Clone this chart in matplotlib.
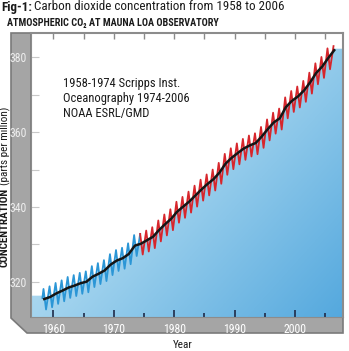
import numpy as np
import matplotlib.pyplot as plt
from matplotlib.patches import Polygon
from matplotlib.ticker import MultipleLocator

plt.rcParams['font.family'] = ['Roboto Condensed', 'DejaVu Sans']
plt.rcParams['font.stretch'] = 'condensed'

# annual means (black trend line)
years = list(range(1958, 2007))
annual_mean = [315.4, 315.97, 316.91, 317.64, 318.45, 318.99, 319.62, 320.04, 321.38, 322.16,
               323.04, 324.62, 325.68, 326.32, 327.45, 329.68, 330.18, 331.11, 332.04, 333.83,
               335.40, 336.84, 338.75, 340.11, 341.45, 343.05, 344.65, 346.12, 347.42, 349.19,
               351.57, 353.12, 354.39, 355.61, 356.45, 357.10, 358.83, 360.82, 362.61, 363.73,
               366.70, 368.38, 369.55, 371.14, 373.28, 375.80, 377.52, 379.80, 381.90]
# seasonal maxima (May) and minima (Oct)
may_peak = [318.1, 318.8, 319.7, 320.4, 321.3, 321.8, 322.4, 322.8, 324.2, 325.0,
            325.8, 327.4, 328.5, 329.1, 330.3, 332.5, 332.8, 333.7, 334.6, 336.4,
            338.0, 339.4, 341.4, 342.7, 344.1, 345.7, 347.3, 348.7, 350.0, 351.8,
            354.2, 355.7, 357.0, 358.2, 359.1, 359.7, 361.4, 363.4, 365.2, 366.3,
            369.3, 371.0, 372.2, 373.7, 375.9, 378.4, 380.1, 382.4, 383.0]
oct_trough = [312.6, 313.2, 314.1, 314.8, 315.7, 316.2, 316.8, 317.2, 318.6, 319.4,
              320.2, 321.8, 322.9, 323.5, 324.7, 326.9, 327.3, 328.1, 329.0, 330.8,
              332.4, 333.8, 335.8, 337.1, 338.5, 340.1, 341.7, 343.1, 344.4, 346.2,
              348.6, 350.1, 351.4, 352.6, 353.5, 354.1, 355.8, 357.8, 359.6, 360.7,
              363.7, 365.4, 366.6, 368.1, 370.3, 372.8, 374.5, 376.8]
first_month = (1958.2, 315.7)
switch_year = 1974.4

# build the monthly zig-zag from the extremes
zx, zy = [first_month[0]], [first_month[1]]
for i, yr in enumerate(years):
    zx.append(yr + 0.38)
    zy.append(may_peak[i])
    if i < len(oct_trough):
        zx.append(yr + 0.8)
        zy.append(oct_trough[i])
zx = np.array(zx)
zy = np.array(zy)
mx = np.array(years) + 0.5
my = np.array(annual_mean)

W, H = 349, 351
fig = plt.figure(figsize=(W / 100, H / 100), dpi=100)

# background layer in pixel units for frame and labels
bg = fig.add_axes([0, 0, 1, 1])
bg.set_xlim(0, W)
bg.set_ylim(H, 0)
bg.axis('off')
frame = Polygon([(11, 33), (31, 33), (31, 317), (343, 317), (343, 333), (27, 333), (11, 318)],
                closed=True, facecolor='#a5a5a5', edgecolor='#7a7a7a', lw=1.2)
bg.add_patch(frame)

ax = fig.add_axes([31 / W, (H - 317) / H, 312 / W, 284 / H])
ax.set_xlim(1956.31, 2007.95)
ax.set_ylim(310.6, 386.5)
ax.set_facecolor('white')

# gradient fill under the trend
x0, x1 = ax.get_xlim()
y0, y1 = ax.get_ylim()
fx = np.concatenate([[x0, 1958.3], mx, [2006.5, x1]])
fy = np.concatenate([[316.3, 316.3], my, [382.3, 382.3]])
poly = ax.fill_between(fx, y0, fy, facecolor='none', edgecolor='none')
gx, gy = np.meshgrid(np.linspace(0, 1, 200), np.linspace(0, 1, 200))
t = 0.55 * gx + 0.45 * (1 - gy)
c0 = np.array([0.86, 0.94, 0.98])
c1 = np.array([0.62, 0.82, 0.93])
c2 = np.array([0.33, 0.66, 0.87])
tt = t[..., None]
img = np.where(tt < 0.5, c0 + (c1 - c0) * (tt / 0.5), c1 + (c2 - c1) * ((tt - 0.5) / 0.5))
im = ax.imshow(img, extent=[x0, x1, y0, y1], origin='lower', aspect='auto', zorder=1)
im.set_clip_path(poly.get_paths()[0], ax.transData)

blue = zx <= switch_year + 0.01
red = zx >= switch_year - 0.45
ax.plot(zx[blue], zy[blue], color='#2b96d6', lw=1.3, zorder=3)
ax.plot(zx[red], zy[red], color='#d7262c', lw=1.3, zorder=3)
ax.plot(mx, my, color='#151515', lw=1.8, zorder=4)

# ticks
ax.xaxis.set_major_locator(MultipleLocator(10))
ax.xaxis.set_minor_locator(MultipleLocator(5))
ax.yaxis.set_major_locator(MultipleLocator(20))
ax.yaxis.set_minor_locator(MultipleLocator(10))
ax.tick_params(axis='x', which='major', direction='in', length=5, width=1.2,
               color='#1e2a48', labelsize=8.5, labelcolor='white', pad=4)
ax.tick_params(axis='x', which='minor', direction='in', length=3, width=1.2, color='#1e2a48')
ax.tick_params(axis='y', which='both', direction='in', length=6, width=0.8,
               color='#c8c8c8', labelsize=8.5, labelcolor='#eeeeee', pad=3)
secx = ax.secondary_xaxis('top')
secx.xaxis.set_major_locator(MultipleLocator(5))
secx.tick_params(direction='in', length=4, width=1, color='#8a8a8a', labeltop=False)
secy = ax.secondary_yaxis('right')
secy.yaxis.set_major_locator(MultipleLocator(10))
secy.tick_params(direction='in', length=5, width=1, color='#9a9a9a', labelright=False)
for s in list(secx.spines.values()) + list(secy.spines.values()):
    s.set_visible(False)
for sp in ['top', 'right', 'left', 'bottom']:
    ax.spines[sp].set_color('#8c8c8c')
ax.spines['top'].set_linewidth(1.5)
ax.spines['right'].set_linewidth(1.5)

ax.text(0.103, 0.768, "1958-1974 Scripps Inst.\nOceanography 1974-2006\nNOAA ESRL/GMD",
        transform=ax.transAxes, fontsize=9, color='#1a1a1a', va='center', ha='left',
        linespacing=1.2, zorder=6)

# titles and axis labels in pixel coordinates
fig.canvas.draw()
r = fig.canvas.get_renderer()
t1 = bg.text(1, 7, "Fig-1:", fontsize=9.4, fontweight='bold', va='center', ha='left', color='#1a1a1a')
ext = t1.get_window_extent(r)
bx = bg.transData.inverted().transform((ext.x1, 0))[0]
bg.text(bx + 2, 7, "Carbon dioxide concentration from 1958 to 2006", fontsize=9.4,
        va='center', ha='left', color='#1a1a1a')
bg.text(7, 23, "ATMOSPHERIC CO\u2082 AT MAUNA LOA OBSERVATORY", fontsize=7.3, fontweight='bold',
        va='center', ha='left', color='#1a1a1a')
yl = bg.text(5, 267, "CONCENTRATION", fontsize=8, fontweight='bold', rotation=90,
             va='center', ha='left', rotation_mode='anchor', color='#1a1a1a')
ext = yl.get_window_extent(r)
top_y = bg.transData.inverted().transform((0, ext.y1))[1]
bg.text(5, top_y - 3, "(parts per million)", fontsize=8, rotation=90,
        va='center', ha='left', rotation_mode='anchor', color='#1a1a1a')
bg.text(183, 345, "Year", fontsize=8, va='center', ha='center', color='#1a1a1a')

fig.savefig('out.png', dpi=100)
